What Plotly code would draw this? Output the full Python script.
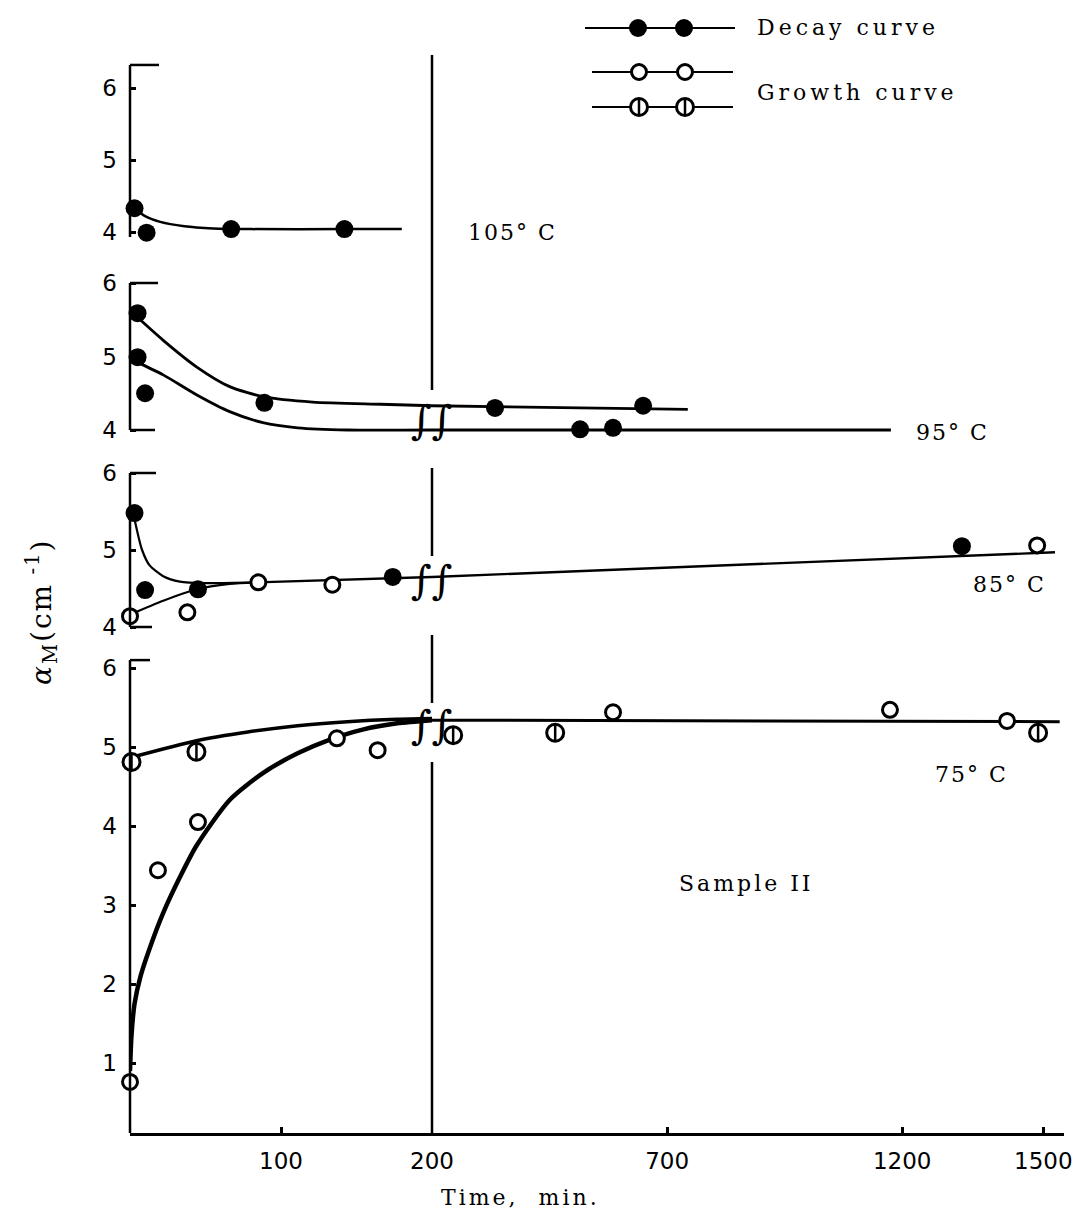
import plotly.graph_objects as go

# ---------------- data (time in min, alpha_M in cm^-1) ----------------
# 105 C
t105_decay = [3, 11, 67, 142]
a105_decay = [4.33, 3.99, 4.04, 4.04]
t105_fit = [3, 10, 20, 36, 55, 80, 142, 180]
a105_fit = [4.33, 4.22, 4.14, 4.08, 4.05, 4.04, 4.04, 4.04]

# 95 C
t95_decay = [5, 5, 10, 89, 334, 515, 585, 649]
a95_decay = [5.59, 4.99, 4.50, 4.37, 4.30, 4.01, 4.03, 4.33]
t95_fit_upper = [4, 22, 44, 66, 89, 121, 166, 200, 744]
a95_fit_upper = [5.55, 5.22, 4.86, 4.59, 4.45, 4.38, 4.35, 4.33, 4.28]
t95_fit_lower = [4, 22, 44, 66, 88, 111, 144, 200, 1176]
a95_fit_lower = [4.93, 4.75, 4.48, 4.25, 4.10, 4.03, 4.00, 4.00, 4.00]

# 85 C
t85_decay = [3, 10, 45, 174, 1327]
a85_decay = [5.48, 4.48, 4.49, 4.65, 5.05]
t85_growth = [0, 38, 85, 134, 1487]
a85_growth = [4.14, 4.19, 4.58, 4.55, 5.06]
t85_fit_decay = [3, 8, 13, 22, 33, 50, 84]
a85_fit_decay = [5.40, 5.00, 4.80, 4.66, 4.59, 4.57, 4.58]
t85_fit_growth = [0, 22, 44, 66, 84]
a85_fit_growth = [4.16, 4.34, 4.49, 4.56, 4.58]
t85_fit_common = [84, 200, 1525]
a85_fit_common = [4.58, 4.65, 4.97]

# 75 C
t75_growth_open = [0, 18.5, 45, 137, 164, 585, 1174, 1423]
a75_growth_open = [0.76, 3.44, 4.05, 5.11, 4.96, 5.44, 5.47, 5.33]
t75_growth_barred = [1, 44, 245, 462, 1489]
a75_growth_barred = [4.81, 4.94, 5.15, 5.18, 5.18]
t75_fit_open = [0, 1, 3, 7, 13, 22, 33, 44, 66, 88, 111, 132, 154, 177, 200]
a75_fit_open = [0.90, 1.35, 1.75, 2.10, 2.45, 2.90, 3.35, 3.75, 4.33, 4.67, 4.92, 5.09, 5.22, 5.30, 5.34]
t75_fit_barred = [1, 44, 78, 111, 144, 177, 200]
a75_fit_barred = [4.87, 5.08, 5.19, 5.27, 5.32, 5.35, 5.36]
t75_fit_long = [200, 1535]
a75_fit_long = [5.34, 5.32]

x_ticks_left = [100, 200]
x_ticks_right = [700, 1200, 1500]
y_ticks_upper = [4, 5, 6]
y_ticks_75 = [1, 2, 3, 4, 5, 6]

# ---------------- layout helpers ----------------
W, H = 1089, 1215
X0_PX, XB_PX, XE_PX = 130, 432, 1064   # left edge, break, right edge (pixels)
def fx(px):
    return px / W
def fy(px):
    return 1 - px / H

BREAK = 200
fig = go.Figure()

def add_curve(t, a, yax, width):
    left = [(ti, ai) for ti, ai in zip(t, a) if ti <= BREAK]
    right = [(ti, ai) for ti, ai in zip(t, a) if ti >= BREAK]
    for pts, xa in ((left, 'x'), (right, 'x2')):
        if len(pts) >= 2:
            fig.add_trace(go.Scatter(
                x=[p[0] for p in pts], y=[p[1] for p in pts],
                xaxis=xa, yaxis=yax, mode='lines',
                line=dict(color='black', width=width, shape='spline', smoothing=0.7),
                hoverinfo='skip', showlegend=False))

def marker_traces(xs, ys, xa, ya, kind):
    out = []
    if kind == 'decay':
        out.append(go.Scatter(x=xs, y=ys, xaxis=xa, yaxis=ya, mode='markers',
                              marker=dict(symbol='circle', size=18, color='black'),
                              cliponaxis=False, showlegend=False, hoverinfo='skip'))
    elif kind == 'open':
        out.append(go.Scatter(x=xs, y=ys, xaxis=xa, yaxis=ya, mode='markers',
                              marker=dict(symbol='circle', size=15, color='white',
                                          line=dict(color='black', width=3)),
                              cliponaxis=False, showlegend=False, hoverinfo='skip'))
    else:
        out.append(go.Scatter(x=xs, y=ys, xaxis=xa, yaxis=ya, mode='markers',
                              marker=dict(symbol='circle', size=17, color='white',
                                          line=dict(color='black', width=3)),
                              cliponaxis=False, showlegend=False, hoverinfo='skip'))
        out.append(go.Scatter(x=xs, y=ys, xaxis=xa, yaxis=ya, mode='markers',
                              marker=dict(symbol='line-ns', size=12, color='black',
                                          line=dict(color='black', width=2.5)),
                              cliponaxis=False, showlegend=False, hoverinfo='skip'))
    return out

def add_points(t, a, yax, kind):
    for cond, xa in ((lambda v: v <= BREAK, 'x'), (lambda v: v > BREAK, 'x2')):
        xs = [ti for ti in t if cond(ti)]
        ys = [ai for ti, ai in zip(t, a) if cond(ti)]
        if xs:
            for tr in marker_traces(xs, ys, xa, yax, kind):
                fig.add_trace(tr)

# ---------------- legend (drawn on a pixel overlay axis, added first) ----------------
legend_rows = [(585, 735, 28, [638, 684], 'decay'),
               (592, 733, 72, [639, 685], 'open'),
               (592, 733, 107, [639, 685], 'barred')]
for x0, x1, yy, mx, kind in legend_rows:
    fig.add_trace(go.Scatter(x=[x0, x1], y=[yy, yy], xaxis='x3', yaxis='y5', mode='lines',
                             line=dict(color='black', width=2), showlegend=False, hoverinfo='skip'))
    for tr in marker_traces(mx, [yy] * len(mx), 'x3', 'y5', kind):
        fig.add_trace(tr)

# curves
add_curve(t105_fit, a105_fit, 'y', 2.5)
add_curve(t95_fit_upper, a95_fit_upper, 'y2', 2.8)
add_curve(t95_fit_lower, a95_fit_lower, 'y2', 2.8)
add_curve(t85_fit_decay, a85_fit_decay, 'y3', 2.2)
add_curve(t85_fit_growth, a85_fit_growth, 'y3', 2.2)
add_curve(t85_fit_common, a85_fit_common, 'y3', 2.4)
add_curve(t75_fit_open, a75_fit_open, 'y4', 4.5)
add_curve(t75_fit_barred, a75_fit_barred, 'y4', 3.5)
add_curve(t75_fit_long, a75_fit_long, 'y4', 3.0)

# points
add_points(t105_decay, a105_decay, 'y', 'decay')
add_points(t95_decay, a95_decay, 'y2', 'decay')
add_points(t85_decay, a85_decay, 'y3', 'decay')
add_points(t85_growth, a85_growth, 'y3', 'open')
add_points(t75_growth_open, a75_growth_open, 'y4', 'open')
add_points(t75_growth_barred, a75_growth_barred, 'y4', 'barred')

# ---------------- axes ----------------
tickfont = dict(family='DejaVu Sans', size=23, color='black')
xcommon = dict(showline=True, linecolor='black', linewidth=2.5, ticks='inside', ticklen=6,
               tickwidth=2.5, tickcolor='black', showgrid=False, zeroline=False,
               tickfont=tickfont, anchor='y4', automargin=False, ticklabelstandoff=6)
x2_end = 200 + (XE_PX - XB_PX) / 0.4702
panels = {
    'yaxis':  dict(px=(40, 250), ref=(232, 4, 72), ticks=y_ticks_upper),
    'yaxis2': dict(px=(255, 450), ref=(430, 4, 73.5), ticks=y_ticks_upper),
    'yaxis3': dict(px=(455, 640), ref=(627, 4, 77), ticks=y_ticks_upper),
    'yaxis4': dict(px=(645, 1133), ref=(1063, 1, 79), ticks=y_ticks_75),
}
layout_axes = {
    'xaxis': dict(domain=[fx(X0_PX), fx(XB_PX)], range=[0, 200], tickvals=x_ticks_left, **xcommon),
    'xaxis2': dict(domain=[fx(XB_PX), fx(XE_PX)], range=[200, x2_end], tickvals=x_ticks_right, **xcommon),
    'xaxis3': dict(domain=[0, 1], range=[0, W], visible=False, anchor='y5', automargin=False),
    'yaxis5': dict(domain=[0, 1], range=[H, 0], visible=False, anchor='x3', automargin=False),
}
for name, p in panels.items():
    top, bot = p['px']
    rpx, rv, sc = p['ref']
    layout_axes[name] = dict(domain=[fy(bot), fy(top)],
                             range=[rv - (bot - rpx) / sc, rv + (rpx - top) / sc],
                             anchor='x', showline=False, showgrid=False, zeroline=False,
                             ticks='inside', ticklen=6, tickwidth=2.5, tickcolor='black',
                             tickvals=p['ticks'], tickfont=tickfont, automargin=False,
                             ticklabelstandoff=12)

fig.update_layout(width=W, height=H, margin=dict(l=0, r=0, t=0, b=0, pad=0),
                  paper_bgcolor='white', plot_bgcolor='rgba(0,0,0,0)', showlegend=False,
                  **layout_axes)

# ---------------- decorative lines ----------------
shapes = []
def seg(xref, yref, x0, y0, x1, y1, w=2.5):
    shapes.append(dict(type='line', xref=xref, yref=yref, x0=x0, y0=y0, x1=x1, y1=y1,
                       line=dict(color='black', width=w)))
def cap_px(n):
    return fx(X0_PX + n)
ax_x = fx(X0_PX)
# panel axis lines and caps (x in paper so the lines are not clipped at the domain edge)
seg('paper', 'y', ax_x, 3.93, ax_x, 6.32); seg('paper', 'y', ax_x, 6.32, cap_px(29), 6.32)
seg('paper', 'y2', ax_x, 4.0, ax_x, 6.0); seg('paper', 'y2', ax_x, 6.0, cap_px(28), 6.0)
seg('paper', 'y2', ax_x, 4.0, cap_px(25), 4.0)
seg('paper', 'y3', ax_x, 4.0, ax_x, 6.0); seg('paper', 'y3', ax_x, 6.0, cap_px(26), 6.0)
seg('paper', 'y3', ax_x, 4.0, cap_px(22), 4.0)
seg('paper', 'y4', ax_x, 0.114, ax_x, 6.10); seg('paper', 'y4', ax_x, 6.10, cap_px(20), 6.10)
# break line at t = 200
for a, b in [(55, 390), (468, 556), (635, 703), (762, 1133)]:
    seg('paper', 'paper', fx(XB_PX), fy(a), fx(XB_PX), fy(b), 2.5)
fig.update_layout(shapes=shapes)

# ---------------- text ----------------
def sp(text, s):
    return f'<span style="letter-spacing:{s}px">{text}</span>'

serif = 'DejaVu Serif'
ann = []
def add_text(text, x, y, size=22, family=serif, xanchor='center', angle=0, xref='paper'):
    ann.append(dict(text=text, x=x, y=y, xref=xref, yref='paper', showarrow=False,
                    xanchor=xanchor, yanchor='middle', textangle=angle,
                    font=dict(family=family, size=size, color='black')))

add_text(sp('105° C', 2), fx(512), fy(232))
add_text(sp('95° C', 2), fx(952), fy(432))
add_text(sp('85° C', 2), fx(1009), fy(585))
add_text(sp('75° C', 2), fx(971), fy(774))
add_text(sp('Sample II', 3), fx(746), fy(883))
add_text(sp('Decay curve', 4), fx(755), fy(28), xanchor='left')
add_text(sp('Growth curve', 4), fx(755), fy(92), xanchor='left')
add_text(sp('Time,  min.', 3), fx(520), fy(1197))
add_text(sp('<i>α</i><sub>M</sub>(cm<sup> -1</sup>)', 2), fx(42), fy(612), size=28, angle=-90)
# axis-break marks
for yb in [420, 580, 725]:
    add_text('∫∫', BREAK, fy(yb), size=40, xref='x')
fig.update_layout(annotations=ann)

fig.write_html('out.html', config={'displayModeBar': False},
               post_script="document.body.style.margin='0px';")
